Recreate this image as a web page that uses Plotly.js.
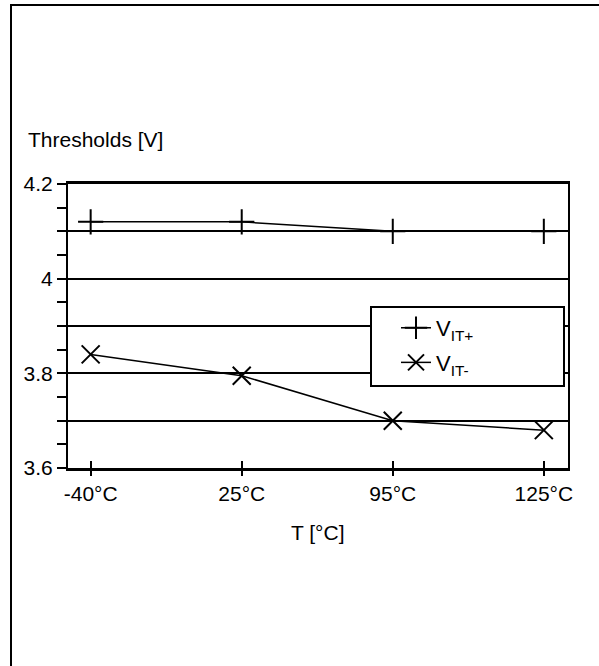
<!DOCTYPE html>
<html>
<head>
<meta charset="utf-8">
<script src="https://cdn.plot.ly/plotly-3.0.1.min.js"></script>
<style>
html,body{margin:0;padding:0;background:#fff;overflow:hidden;}
#wrap{position:relative;width:599px;height:666px;overflow:hidden;}
#chart{position:absolute;left:0;top:0;width:599px;height:666px;}
#frame{position:absolute;left:10px;top:4px;width:600px;height:700px;border-left:2px solid #000;border-top:2px solid #000;pointer-events:none;}
</style>
</head>
<body>
<div id="wrap"><div id="chart"></div><div id="frame"></div></div>
<script>
const categories = ['-40°C', '25°C', '95°C', '125°C'];
const vitPlus = [4.12, 4.12, 4.10, 4.10];
const vitMinus = [3.84, 3.795, 3.70, 3.68];
const yTickVals = [3.6, 3.7, 3.8, 3.9, 4.0, 4.1, 4.2];
const yTickText = ['3.6', '', '3.8', '', '4', '', '4.2'];

const xIdx = categories.map((_, i) => i);
const FONT = 'Liberation Sans, Arial, sans-serif';

const traces = [
  {
    x: xIdx, y: vitPlus, name: 'V<sub>IT+</sub>', mode: 'lines+markers', legendgroup: 'a',
    line: {color: '#000', width: 1.5},
    marker: {symbol: 'cross-thin', size: 18, color: '#000', line: {color: '#000', width: 2}}
  },
  {
    x: xIdx, y: vitMinus, name: 'V<sub>IT-</sub>', mode: 'lines+markers', legendgroup: 'b',
    line: {color: '#000', width: 1.5},
    marker: {symbol: 'x-thin', size: 18, color: '#000', line: {color: '#000', width: 2}}
  },
  { x: [], y: [], xaxis: 'x2', showlegend: false, hoverinfo: 'skip' }
];

const layout = {
  width: 599, height: 666,
  margin: {l: 68, r: 31, t: 184, b: 198},
  paper_bgcolor: '#fff', plot_bgcolor: '#fff',
  font: {family: FONT, size: 21, color: '#000'},
  showlegend: true,
  legend: {
    x: 0.656, y: 0.567, xanchor: 'left', yanchor: 'top',
    bgcolor: 'rgba(0,0,0,0)', borderwidth: 0,
    font: {family: FONT, size: 22, color: '#000'},
    tracegroupgap: 3
  },
  xaxis: {
    range: [-0.15, 3.16], tickvals: xIdx, ticktext: categories,
    ticks: 'outside', ticklen: 5, tickwidth: 2, tickcolor: '#000',
    showline: true, linewidth: 3, linecolor: '#000', mirror: true,
    showgrid: false, zeroline: false,
    tickfont: {family: FONT, size: 21, color: '#000'}
  },
  xaxis2: {
    overlaying: 'x', side: 'bottom', range: [-0.15, 3.16], tickvals: xIdx,
    showticklabels: false, ticks: 'inside', ticklen: 7, tickwidth: 2, tickcolor: '#000',
    showline: false, showgrid: false, zeroline: false
  },
  yaxis: {
    range: [3.6, 4.2], tickvals: yTickVals, ticktext: yTickText,
    ticks: 'outside', ticklen: 9, tickwidth: 2, tickcolor: '#000',
    minor: {dtick: 0.05, tick0: 3.6, ticks: 'outside', ticklen: 9, tickwidth: 2, tickcolor: '#000', showgrid: false},
    showline: true, linewidth: 2, linecolor: '#000', mirror: true,
    showgrid: true, gridcolor: '#000', gridwidth: 2, zeroline: false,
    tickfont: {family: FONT, size: 21, color: '#000'}
  },
  shapes: [
    {type: 'rect', xref: 'paper', yref: 'paper', x0: 0.606, x1: 0.992, y0: 0.289, y1: 0.567,
     fillcolor: '#fff', line: {color: '#000', width: 2}, layer: 'above'}
  ],
  annotations: [
    {text: 'Thresholds [V]', xref: 'paper', yref: 'paper', x: -0.084, y: 1.11,
     xanchor: 'left', yanchor: 'bottom', showarrow: false, font: {family: FONT, size: 21, color: '#000'}},
    {text: 'T [°C]', xref: 'paper', yref: 'paper', x: 0.5, y: -0.179,
     xanchor: 'center', yanchor: 'top', showarrow: false, font: {family: FONT, size: 21, color: '#000'}}
  ]
};

Plotly.newPlot('chart', traces, layout, {displayModeBar: false, staticPlot: true});
</script>
</body>
</html>
